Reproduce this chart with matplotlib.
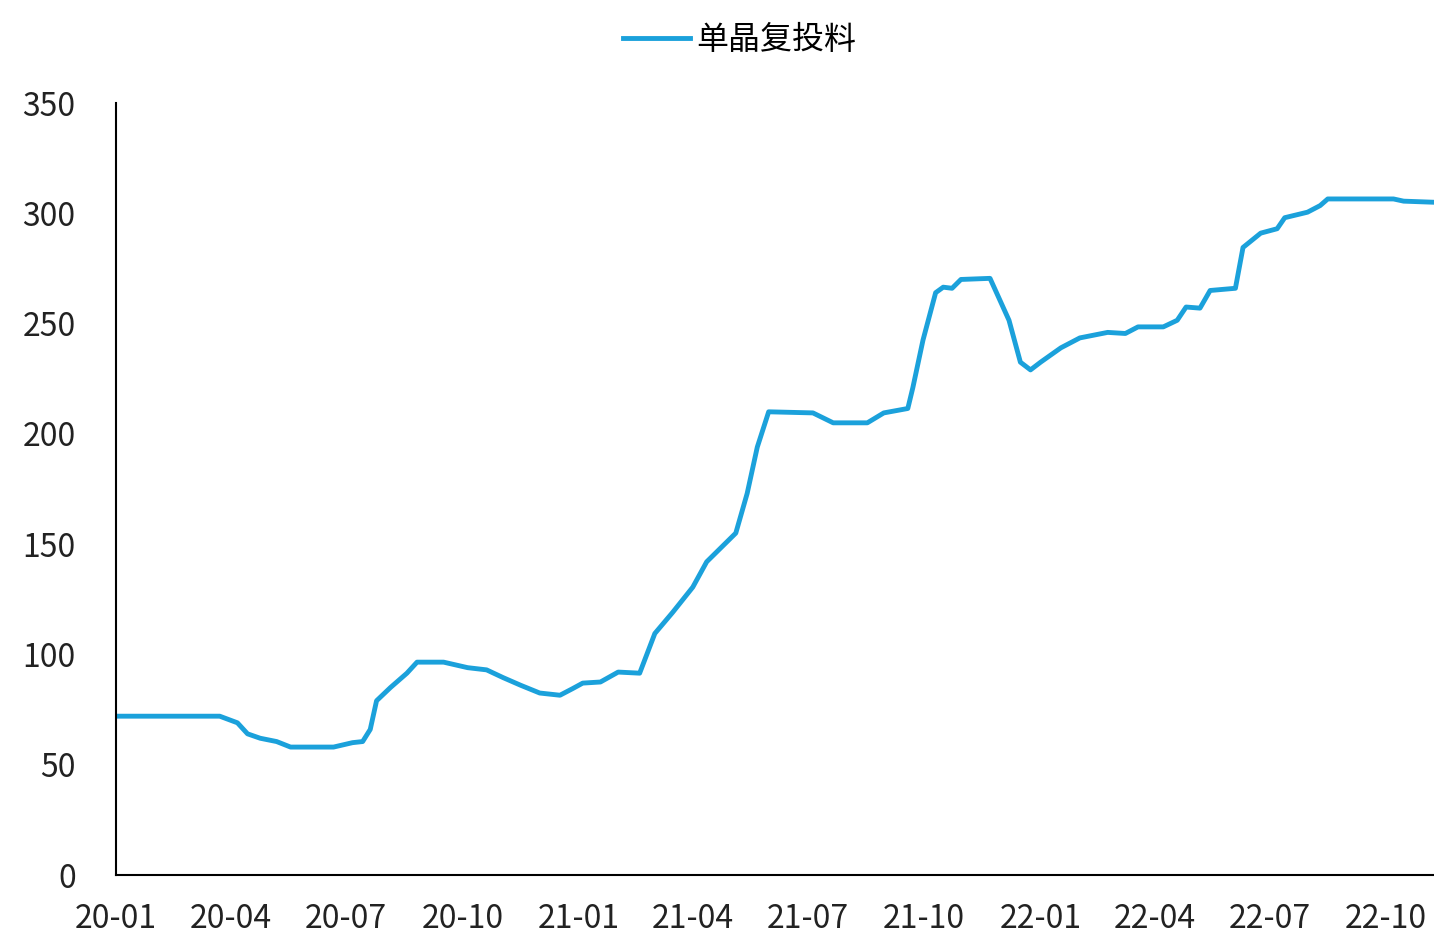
import matplotlib.pyplot as plt
import matplotlib.dates as mdates
import pandas as pd

plt.rcParams["font.family"] = ["Noto Sans CJK SC", "DejaVu Sans"]

# values
dates = [
    "2020-01-01", "2020-03-23", "2020-04-06", "2020-04-14", "2020-04-24",
    "2020-05-07", "2020-05-18", "2020-06-21", "2020-07-06", "2020-07-14",
    "2020-07-20", "2020-07-25", "2020-08-05", "2020-08-18", "2020-08-26",
    "2020-09-16", "2020-10-05", "2020-10-20", "2020-11-02", "2020-11-16",
    "2020-12-01", "2020-12-17", "2020-12-27", "2021-01-04", "2021-01-18",
    "2021-02-01", "2021-02-18", "2021-03-02", "2021-03-16", "2021-04-01",
    "2021-04-12", "2021-05-05", "2021-05-14", "2021-05-22", "2021-05-31",
    "2021-07-05", "2021-07-21", "2021-08-17", "2021-08-30", "2021-09-18",
    "2021-09-22", "2021-09-30", "2021-10-10", "2021-10-16", "2021-10-23",
    "2021-10-30", "2021-11-22", "2021-12-07", "2021-12-16", "2021-12-24",
    "2022-01-01", "2022-01-17", "2022-02-01", "2022-02-23", "2022-03-09",
    "2022-03-19", "2022-04-08", "2022-04-19", "2022-04-26", "2022-05-07",
    "2022-05-15", "2022-06-04", "2022-06-10", "2022-06-24", "2022-07-07",
    "2022-07-13", "2022-07-31", "2022-08-10", "2022-08-16", "2022-10-07",
    "2022-10-15", "2022-11-08",
]
price = [
    72, 72, 69, 64, 62,
    60.5, 58, 58, 60, 60.5,
    66, 79, 85, 91.5, 96.5,
    96.5, 94, 93, 89.5, 86,
    82.5, 81.5, 84.5, 87, 87.5,
    92, 91.5, 109.5, 119, 130.5,
    142, 155, 173, 194, 210,
    209.5, 205, 205, 209.5, 211.5,
    221, 242.5, 264, 266.5, 266,
    270, 270.5, 251.5, 232.5, 229,
    232.5, 239, 243.5, 246, 245.5,
    248.5, 248.5, 251.5, 257.5, 257,
    265, 266, 284.5, 291, 293,
    298, 300.5, 303.5, 306.5, 306.5,
    305.5, 305,
]
tick_dates = pd.date_range("2020-01-01", "2022-10-01", freq="3MS")

x = pd.to_datetime(dates)

fig = plt.figure(figsize=(14.34, 9.35), dpi=100)
ax = fig.add_axes([116 / 1434, 1 - 875 / 935, 1 - 116 / 1434, (875 - 103) / 935])

ax.plot(x, price, color="#1BA1DB", linewidth=3.5, label="单晶复投料",
        solid_joinstyle="round")

ax.set_xlim(pd.Timestamp("2020-01-01"), pd.Timestamp("2022-11-08"))
ax.set_ylim(0, 350)
ax.set_yticks(range(0, 351, 50))
ax.set_xticks(tick_dates)
ax.xaxis.set_major_formatter(mdates.DateFormatter("%y-%m"))

for side in ["top", "right"]:
    ax.spines[side].set_visible(False)
ax.spines["left"].set_linewidth(1.5)
ax.spines["bottom"].set_linewidth(1.5)
ax.tick_params(axis="both", length=0, labelsize=23, colors="#222222")
ax.tick_params(axis="y", pad=29)
ax.tick_params(axis="x", pad=20)

fig.legend(loc="upper center", bbox_to_anchor=(740 / 1434, 1.005), frameon=False,
           fontsize=23, handlelength=2.1, handletextpad=0.2)

fig.savefig("out.png", dpi=100)
plt.close()
